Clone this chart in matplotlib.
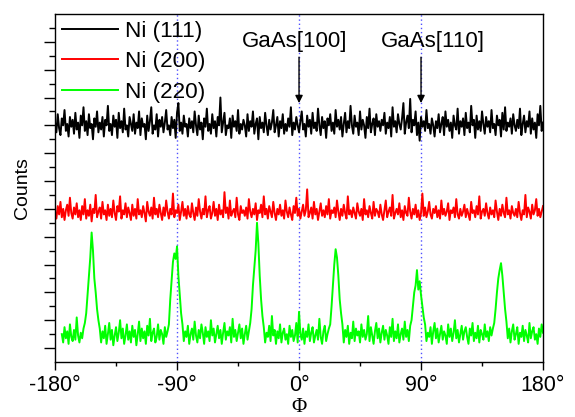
import numpy as np
import matplotlib
matplotlib.use('Agg')
import matplotlib.pyplot as plt
from matplotlib.ticker import FixedLocator

plt.rcParams['font.family'] = ['Liberation Sans', 'DejaVu Sans']

# phi scan, 1 degree steps
phi_111 = np.arange(-180, 181)
phi_200 = np.arange(-180, 181)
phi_220 = np.arange(-175, 181)

counts_111 = [
    172, 165, 178, 168, 163, 175, 170, 181, 166, 171,
    162, 176, 169, 174, 164, 179, 167, 172, 161, 177,
    170, 183, 166, 173, 163, 178, 168, 171, 160, 175,
    169, 180, 165, 172, 167, 176, 162, 174, 170, 184,
    166, 171, 163, 177, 169, 174, 161, 179, 168, 173,
    165, 182, 167, 170, 162, 176, 171, 166, 178, 164,
    172, 168, 180, 163, 175, 169, 171, 160, 177, 166,
    173, 183, 164, 170, 167, 178, 162, 174, 169, 176,
    165, 172, 181, 167, 170, 163, 176, 168, 174, 161,
    179, 186, 166, 172, 164, 177, 169, 171, 162, 175,
    168, 173, 165, 180, 170, 163, 177, 167, 172, 160,
    175, 169, 182, 166, 171, 164, 178, 168, 173, 162,
    176, 170, 190, 165, 172, 179, 163, 170, 168, 175,
    161, 177, 169, 173, 166, 181, 164, 171, 167, 174,
    170, 162, 178, 166, 173, 169, 180, 164, 171, 175,
    160, 176, 168, 172, 165, 179, 170, 163, 174, 167,
    172, 181, 165, 170, 176, 162, 173, 168, 178, 164,
    171, 166, 175, 169, 183, 163, 172, 167, 176, 170,
    165, 173, 180, 167, 171, 162, 177, 169, 174, 164,
    179, 168, 172, 166, 182, 170, 163, 176, 168, 173,
    161, 175, 170, 178, 166, 172, 164, 181, 169, 174,
    167, 176, 162, 171, 179, 165, 173, 168, 184, 170,
    164, 177, 169, 172, 163, 180, 167, 174, 170, 161,
    176, 168, 182, 165, 171, 175, 163, 178, 169, 173,
    166, 174, 170, 179, 164, 172, 168, 176, 162, 183,
    169, 173, 165, 178, 171, 167, 175, 186, 164, 172,
    177, 168, 189, 165, 174, 170, 180, 163, 172, 159,
    176, 169, 173, 166, 181, 168, 171, 164, 175, 170,
    162, 173, 168, 178, 165, 171, 176, 163, 180, 169,
    174, 166, 172, 161, 177, 170, 167, 182, 164, 173,
    169, 175, 163, 179, 168, 172, 165, 184, 170, 174,
    161, 177, 167, 173, 166, 180, 171, 164, 176, 169,
    173, 165, 181, 168, 171, 163, 177, 170, 174, 162,
    179, 167, 183, 166, 172, 169, 175, 164, 178, 170,
    166, 174, 168, 182, 163, 171, 177, 165, 173, 169,
    180, 164, 175, 167, 172, 161, 178, 170, 184, 166,
    172,
]

counts_200 = [
    108, 103, 112, 106, 115, 104, 110, 102, 109, 113,
    105, 118, 107, 103, 111, 106, 114, 104, 109, 102,
    112, 106, 117, 103, 109, 105, 113, 101, 110, 107,
    120, 104, 108, 111, 103, 115, 106, 109, 102, 113,
    105, 110, 104, 116, 107, 102, 112, 108, 119, 103,
    109, 106, 114, 104, 111, 107, 102, 113, 105, 110,
    103, 117, 106, 109, 104, 112, 107, 101, 115, 108,
    105, 111, 103, 118, 106, 110, 104, 113, 107, 102,
    111, 105, 116, 108, 103, 110, 106, 121, 104, 109,
    107, 113, 102, 108, 115, 105, 110, 103, 112, 106,
    104, 114, 107, 102, 111, 105, 117, 108, 103, 110,
    106, 119, 104, 109, 112, 103, 107, 115, 105, 110,
    102, 113, 106, 109, 104, 122, 107, 111, 103, 116,
    105, 108, 110, 104, 118, 106, 102, 112, 107, 109,
    105, 111, 103, 117, 108, 104, 110, 106, 114, 102,
    109, 107, 113, 104, 119, 106, 110, 103, 112, 108,
    104, 115, 107, 102, 110, 106, 113, 105, 109, 103,
    116, 108, 104, 111, 106, 102, 112, 107, 118, 105,
    110, 103, 108, 113, 105, 109, 124, 104, 107, 111,
    103, 115, 106, 110, 102, 108, 114, 105, 109, 104,
    112, 106, 117, 103, 109, 107, 111, 104, 116, 108,
    102, 110, 105, 113, 107, 103, 119, 106, 109, 104,
    111, 107, 103, 114, 108, 105, 110, 102, 117, 106,
    109, 104, 112, 107, 103, 115, 105, 110, 108, 104,
    113, 106, 102, 109, 116, 104, 108, 111, 105, 120,
    103, 107, 110, 106, 114, 104, 109, 102, 112, 107,
    105, 118, 108, 103, 110, 106, 113, 104, 109, 102,
    107, 121, 105, 111, 104, 108, 115, 106, 103, 110,
    107, 112, 104, 109, 103, 116, 106, 110, 105, 108,
    114, 102, 109, 107, 111, 104, 117, 106, 103, 110,
    105, 108, 113, 104, 110, 106, 102, 115, 107, 109,
    104, 112, 106, 119, 103, 108, 110, 105, 114, 107,
    103, 111, 106, 109, 104, 116, 108, 102, 110, 105,
    113, 107, 104, 118, 106, 109, 103, 112, 107, 105,
    110, 104, 115, 107, 102, 109, 106, 120, 104, 111,
    108, 103, 113, 106, 109, 117, 105, 110, 104, 108,
    112,
]

counts_220 = [
    20, 14, 25, 17, 22, 13, 27, 18, 15, 23,
    16, 32, 19, 14, 21, 17, 24, 28, 35, 48,
    62, 75, 93, 80, 60, 50, 38, 30, 24, 14,
    22, 17, 26, 13, 20, 28, 16, 23, 12, 19,
    25, 15, 21, 30, 17, 24, 13, 19, 27, 16,
    22, 14, 26, 18, 23, 12, 20, 29, 15, 24,
    17, 22, 13, 26, 19, 31, 15, 21, 24, 14,
    18, 27, 16, 23, 20, 13, 25, 18, 22, 27,
    45, 58, 72, 78, 74, 83, 62, 48, 35, 27,
    15, 22, 18, 26, 13, 20, 24, 16, 29, 19,
    14, 23, 17, 27, 21, 13, 25, 18, 22, 15,
    30, 19, 24, 14, 20, 26, 17, 23, 13, 21,
    28, 16, 22, 19, 25, 14, 31, 18, 23, 15,
    21, 27, 17, 24, 13, 20, 26, 16, 22, 28,
    38, 55, 68, 80, 100, 85, 62, 45, 33, 25,
    14, 21, 18, 26, 15, 33, 19, 23, 13, 22,
    17, 27, 14, 21, 24, 16, 20, 13, 26, 18,
    23, 15, 19, 28, 14, 36, 20, 16, 24, 13,
    22, 18, 27, 15, 21, 25, 14, 19, 23, 16,
    31, 18, 13, 22, 26, 15, 20, 24, 27, 40,
    55, 70, 81, 75, 62, 45, 35, 27, 14, 23,
    18, 26, 13, 21, 17, 29, 15, 24, 19, 22,
    14, 27, 18, 23, 16, 20, 33, 15, 25, 19,
    13, 22, 28, 17, 24, 14, 21, 26, 16, 23,
    19, 13, 25, 18, 31, 15, 22, 17, 27, 14,
    20, 24, 16, 29, 18, 23, 15, 26, 30, 40,
    50, 55, 66, 52, 58, 48, 40, 32, 27, 15,
    21, 18, 25, 13, 22, 28, 17, 24, 14, 20,
    26, 16, 22, 19, 13, 27, 18, 24, 15, 21,
    30, 17, 23, 14, 20, 26, 16, 22, 25, 18,
    13, 24, 19, 28, 15, 21, 17, 26, 14, 23,
    20, 16, 27, 18, 22, 15, 25, 19, 24, 28,
    38, 50, 60, 66, 71, 62, 50, 38, 29, 17,
    24, 14, 22, 27, 16, 20, 25, 13, 21, 18,
    26, 15, 23, 19, 14, 28, 17, 22, 25, 16,
    20, 13, 24, 18, 27, 21,
]

series_labels = ['Ni (111)', 'Ni (200)', 'Ni (220)']
series_colors = ['black', '#ff0000', '#00ff00']
substrate_phi = [-90, 0, 90]
arrow_labels = ['GaAs[100]', 'GaAs[110]']
arrow_phi = [0, 90]
label_phi = [-3, 99]
xtick_vals = [-180, -90, 0, 90, 180]
xtick_labels = ['-180°', '-90°', '0°', '90°', '180°']

fig = plt.figure(figsize=(5.75, 4.17), dpi=100)
ax = fig.add_axes([0.0957, 0.132, 0.8487, 0.8344])

for p in substrate_phi:
    ax.axvline(p, color='#5050ff', linestyle=(0, (1, 2)), linewidth=1.0, zorder=1)

for x, y, lab, col in zip([phi_111, phi_200, phi_220],
                          [counts_111, counts_200, counts_220],
                          series_labels, series_colors):
    ax.plot(x, y, color=col, linewidth=1.4, label=lab, zorder=2)

# GaAs direction arrows
for lab, xp, xl in zip(arrow_labels, arrow_phi, label_phi):
    ax.text(xl, 230, lab, ha='center', va='center', fontsize=16)
    ax.annotate('', xy=(xp, 186), xytext=(xp, 219),
                arrowprops=dict(arrowstyle='-|>', color='black', lw=1.0,
                                mutation_scale=11, shrinkA=0, shrinkB=0))

ax.set_xlim(-180, 180)
ax.set_ylim(0, 250)
ax.set_xticks(xtick_vals)
ax.set_xticklabels(xtick_labels, fontsize=15.5)
ax.xaxis.set_minor_locator(FixedLocator([-135, -45, 45, 135]))
ax.yaxis.set_major_locator(FixedLocator(np.arange(10, 250, 20)))
ax.yaxis.set_minor_locator(FixedLocator(np.arange(20, 250, 20)))
ax.set_yticklabels([])
ax.tick_params(which='major', direction='out', length=6, width=1, top=False, right=False)
ax.tick_params(which='minor', direction='out', length=3, width=1, top=False, right=False)
ax.tick_params(axis='y', which='major', length=8)
ax.tick_params(axis='y', which='minor', length=4)
for s in ax.spines.values():
    s.set_linewidth(1.0)

ax.set_ylabel('Counts', fontsize=14, labelpad=6)
ax.set_xlabel('Φ', fontsize=15, family=['Liberation Serif', 'DejaVu Serif'], labelpad=1)

ax.legend(loc='upper left', frameon=False, fontsize=16.2, handlelength=2.5,
          handletextpad=0.3, labelspacing=0.42, borderpad=0.2, borderaxespad=0.1)

fig.savefig('out.png', dpi=100)
